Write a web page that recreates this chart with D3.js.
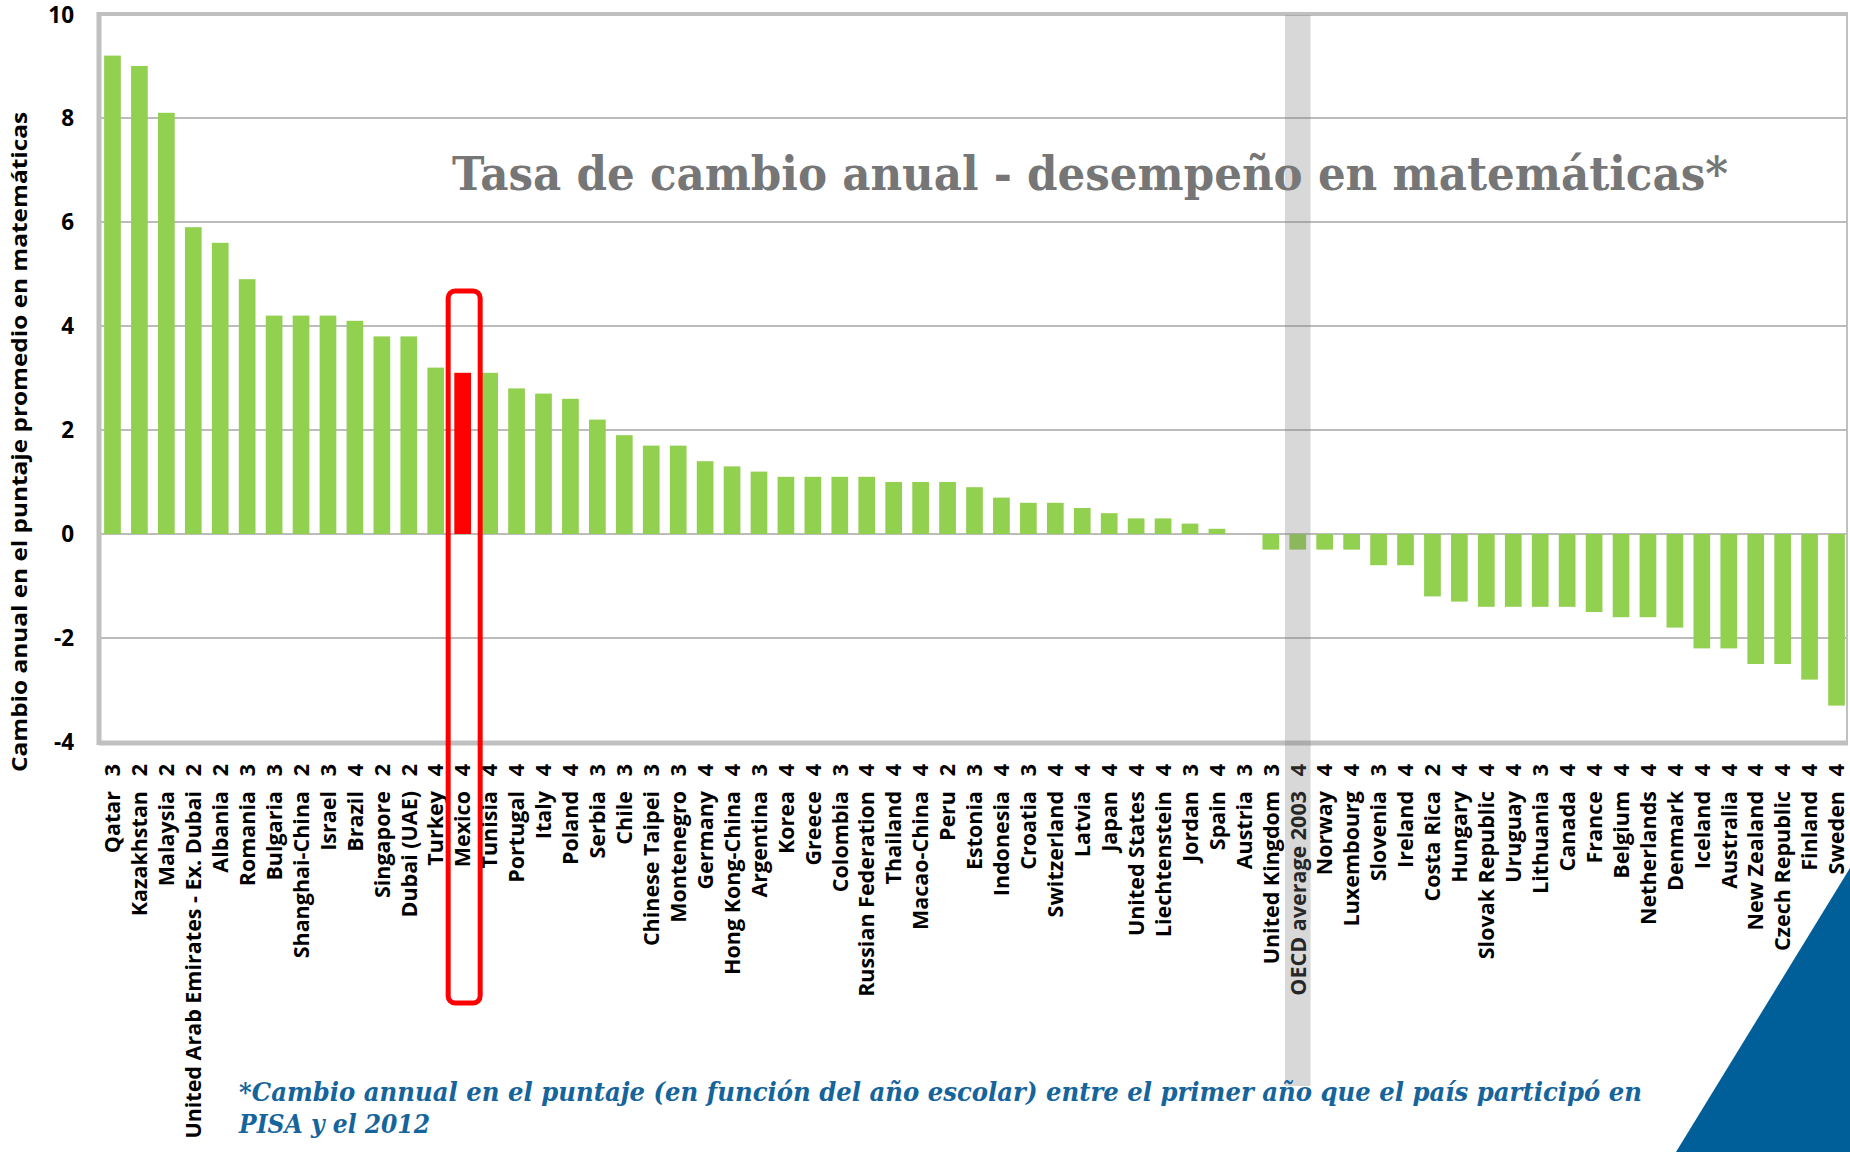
<!DOCTYPE html>
<html>
<head>
<meta charset="utf-8">
<script src="https://cdn.jsdelivr.net/npm/d3@7"></script>
<style>
  body { margin: 0; background: #fff; }
  svg { display: block; }
</style>
</head>
<body>
<svg id="chart"></svg>
<script>
// countries, number of PISA cycles, annual change in math score
const countries = ["Qatar", "Kazakhstan", "Malaysia", "United Arab Emirates - Ex. Dubai", "Albania", "Romania",
  "Bulgaria", "Shanghai-China", "Israel", "Brazil", "Singapore", "Dubai (UAE)", "Turkey", "Mexico", "Tunisia",
  "Portugal", "Italy", "Poland", "Serbia", "Chile", "Chinese Taipei", "Montenegro", "Germany", "Hong Kong-China",
  "Argentina", "Korea", "Greece", "Colombia", "Russian Federation", "Thailand", "Macao-China", "Peru", "Estonia",
  "Indonesia", "Croatia", "Switzerland", "Latvia", "Japan", "United States", "Liechtenstein", "Jordan", "Spain",
  "Austria", "United Kingdom", "OECD average 2003", "Norway", "Luxembourg", "Slovenia", "Ireland", "Costa Rica",
  "Hungary", "Slovak Republic", "Uruguay", "Lithuania", "Canada", "France", "Belgium", "Netherlands", "Denmark",
  "Iceland", "Australia", "New Zealand", "Czech Republic", "Finland", "Sweden"];
const cycles = [3, 2, 2, 2, 2, 3, 3, 2, 3, 4, 2, 2, 4, 4, 4, 4, 4, 4, 3, 3, 3, 3, 4, 4, 3, 4, 4, 3, 4, 4, 4, 2, 3,
  4, 3, 4, 4, 4, 4, 4, 3, 4, 3, 3, 4, 4, 4, 3, 4, 2, 4, 4, 4, 3, 4, 4, 4, 4, 4, 4, 4, 4, 4, 4, 4];
const values = [9.2, 9.0, 8.1, 5.9, 5.6, 4.9, 4.2, 4.2, 4.2, 4.1, 3.8, 3.8, 3.2, 3.1, 3.1, 2.8, 2.7, 2.6, 2.2, 1.9,
  1.7, 1.7, 1.4, 1.3, 1.2, 1.1, 1.1, 1.1, 1.1, 1.0, 1.0, 1.0, 0.9, 0.7, 0.6, 0.6, 0.5, 0.4, 0.3, 0.3, 0.2, 0.1,
  0.0, -0.3, -0.3, -0.3, -0.3, -0.6, -0.6, -1.2, -1.3, -1.4, -1.4, -1.4, -1.4, -1.5, -1.6, -1.6, -1.8, -2.2, -2.2,
  -2.5, -2.5, -2.8, -3.3];
const yTicks = [-4, -2, 0, 2, 4, 6, 8, 10];

const highlight = "Mexico";
const average = "OECD average 2003";
const title = "Tasa de cambio anual - desempeño en matemáticas*";
const yTitle = "Cambio anual en el puntaje promedio en matemáticas";
const note1 = "*Cambio annual en el puntaje (en función del año escolar) entre el primer año que el país participó en";
const note2 = "PISA y el 2012";

const width = 1850;
const height = 1152;
const margin = {top: 14, right: 0, bottom: 410, left: 99};

const svg = d3.select("#chart")
  .attr("width", width)
  .attr("height", height);

const data = countries.map((c, i) => ({name: c, n: cycles[i], v: values[i]}));

const x = d3.scaleBand()
  .domain(countries)
  .range([margin.left, width - margin.right])
  .paddingInner(0.38)
  .paddingOuter(0.19);
const y = d3.scaleLinear()
  .domain([-4, 10])
  .range([height - margin.bottom, margin.top]);

const plotRight = 1847;

// gridlines
svg.append("g").selectAll("line")
  .data(yTicks.filter(t => t > -4 && t < 10))
  .enter().append("line")
    .attr("x1", margin.left).attr("x2", plotRight)
    .attr("y1", d => y(d)).attr("y2", d => y(d))
    .attr("stroke", "#a6a6a6")
    .attr("stroke-width", 1.6);

// frame
const frame = svg.append("g").attr("stroke", "#c0c0c0").attr("fill", "none");
frame.append("line").attr("x1", plotRight).attr("x2", plotRight)
  .attr("y1", y(10)).attr("y2", y(-4)).attr("stroke-width", 2);
frame.append("line").attr("x1", margin.left).attr("x2", plotRight + 1)
  .attr("y1", y(10)).attr("y2", y(10)).attr("stroke-width", 4);
frame.append("line").attr("x1", margin.left).attr("x2", plotRight + 1)
  .attr("y1", y(-4) + 1).attr("y2", y(-4) + 1).attr("stroke-width", 5);
frame.append("line").attr("x1", margin.left).attr("x2", margin.left)
  .attr("y1", y(10) - 2).attr("y2", y(-4) + 3).attr("stroke-width", 5);

// bars
svg.append("g").selectAll("rect")
  .data(data)
  .enter().append("rect")
    .attr("x", d => x(d.name))
    .attr("width", x.bandwidth())
    .attr("y", d => y(Math.max(0, d.v)))
    .attr("height", d => Math.abs(y(d.v) - y(0)))
    .attr("fill", d => d.name === highlight ? "#ff0000" : "#92d050");

// y axis labels
svg.append("g").selectAll("text")
  .data(yTicks)
  .enter().append("text")
    .attr("x", 74)
    .attr("y", d => y(d) + (d === 10 ? 1 : 0))
    .attr("dy", "0.36em")
    .attr("text-anchor", "end")
    .style("font", "700 22.5px 'Open Sans'")
    .attr("fill", "#000")
    .text(d => d);

svg.append("text")
  .attr("transform", `translate(27,${442}) rotate(-90)`)
  .attr("text-anchor", "middle")
  .attr("textLength", 660)
  .attr("lengthAdjust", "spacingAndGlyphs")
  .style("font", "700 21px 'Open Sans'")
  .attr("fill", "#000")
  .text(yTitle);

// category labels: cycles number on top, name below
const lab = svg.append("g").selectAll("g")
  .data(data)
  .enter().append("g")
    .attr("transform", d => `translate(${x(d.name) + x.bandwidth() / 2},0)`);
lab.append("text")
  .attr("transform", "translate(0,764) rotate(-90)")
  .attr("dy", "0.36em")
  .attr("text-anchor", "end")
  .style("font", "700 21.5px 'Open Sans'")
  .attr("fill", "#000")
  .text(d => d.n);
lab.append("text")
  .attr("transform", "translate(0,791) rotate(-90)")
  .attr("dy", "0.36em")
  .attr("text-anchor", "end")
  .style("font", "700 21.5px 'Open Sans'")
  .attr("fill", "#000")
  .text(d => d.name);

// title
svg.append("text")
  .attr("x", 452)
  .attr("y", 190)
  .attr("textLength", 1276)
  .attr("lengthAdjust", "spacingAndGlyphs")
  .style("font", "700 46px 'DejaVu Serif'")
  .attr("fill", "#767676")
  .text(title);

// OECD average band on top
const cx = x(average) + x.bandwidth() / 2;
svg.append("rect")
  .attr("x", cx - 12.8)
  .attr("width", 25.6)
  .attr("y", y(10) + 1)
  .attr("height", 1085 - y(10))
  .attr("fill", "#7f7f7f")
  .attr("fill-opacity", 0.3);

// Mexico outline
const mx = x(highlight) + x.bandwidth() / 2;
svg.append("rect")
  .attr("x", mx - 14.5)
  .attr("width", 32)
  .attr("y", 291)
  .attr("height", 712)
  .attr("rx", 7)
  .attr("fill", "none")
  .attr("stroke", "#ff0000")
  .attr("stroke-width", 5);

// footnote
const note = svg.append("g")
  .style("font", "italic 700 26px 'DejaVu Serif'")
  .attr("fill", "#15649c");
note.append("text").attr("x", 239).attr("y", 1101)
  .attr("textLength", 1403).attr("lengthAdjust", "spacingAndGlyphs").text(note1);
note.append("text").attr("x", 239).attr("y", 1133)
  .attr("textLength", 191).attr("lengthAdjust", "spacingAndGlyphs").text(note2);

// corner decoration
svg.append("path")
  .attr("d", d3.line()([[1850, 868], [1850, 1152], [1676, 1152]]))
  .attr("fill", "#005f99");
</script>
</body>
</html>
